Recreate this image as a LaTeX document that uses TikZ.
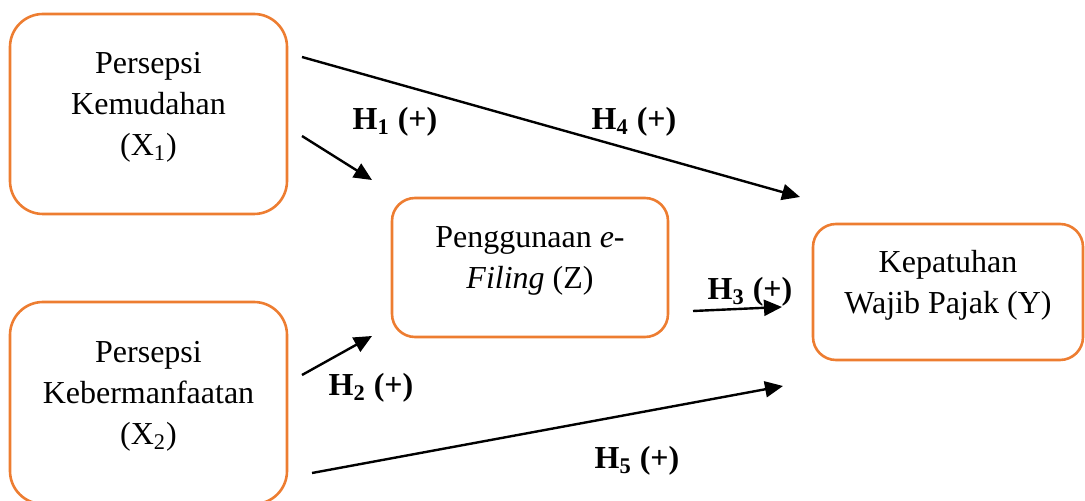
\documentclass[tikz,border=0pt]{standalone}
\usepackage{fontspec}
\setmainfont{Liberation Serif}
\usetikzlibrary{arrows.meta}
\definecolor{boxorange}{RGB}{237,125,49}
\begin{document}
\begin{tikzpicture}[x=0.5pt,y=-0.5pt,
    var/.style={draw=boxorange,line width=1.3pt,align=center,inner sep=0pt,
        font=\fontsize{16}{20.5}\selectfont,text depth=10pt},
    hyp/.style={font=\fontsize{16}{20.5}\selectfont\bfseries},
    effect/.style={-{Triangle[length=9pt,width=8pt]},line width=1.2pt}]
    \useasboundingbox (0,0) rectangle (1085,501);
    % variables
    \node[var,rounded corners=16.5pt,minimum width=138.5pt,minimum height=100pt] (x1) at (148.5,114) {Persepsi\\Kemudahan\\(X\textsubscript{1})};
    \node[var,rounded corners=16.5pt,minimum width=138.5pt,minimum height=101pt] (x2) at (148.5,403) {Persepsi\\Kebermanfaatan\\(X\textsubscript{2})};
    \node[var,rounded corners=11.5pt,minimum width=138pt,minimum height=69.5pt] (z) at (530,267.5) {Penggunaan \textit{e}-\\\textit{Filing} (Z)};
    \node[var,rounded corners=11.5pt,minimum width=135pt,minimum height=68pt] (y) at (948,292) {Kepatuhan\\Wajib Pajak (Y)};
    % arrow ends
    \coordinate (h1a) at (302,136);
    \coordinate (h1b) at (372,180);
    \coordinate (h2a) at (302,375);
    \coordinate (h2b) at (372,336);
    \coordinate (h3a) at (693,311);
    \coordinate (h3b) at (782,307);
    \coordinate (h4a) at (302,57);
    \coordinate (h4b) at (800,197);
    \coordinate (h5a) at (312,473);
    \coordinate (h5b) at (783,386);
    \draw[effect] (h1a) -- (h1b);
    \draw[effect] (h2a) -- (h2b);
    \draw[effect] (h3a) -- (h3b);
    \draw[effect] (h4a) -- (h4b);
    \draw[effect] (h5a) -- (h5b);
    % hypotheses
    \node[hyp] (lh1) at (395,122) {H\textsubscript{1} (+)};
    \node[hyp] (lh2) at (371,388) {H\textsubscript{2} (+)};
    \node[hyp] (lh3) at (750,292) {H\textsubscript{3} (+)};
    \node[hyp] (lh4) at (634,122) {H\textsubscript{4} (+)};
    \node[hyp] (lh5) at (637,461) {H\textsubscript{5} (+)};
\end{tikzpicture}
\end{document}
